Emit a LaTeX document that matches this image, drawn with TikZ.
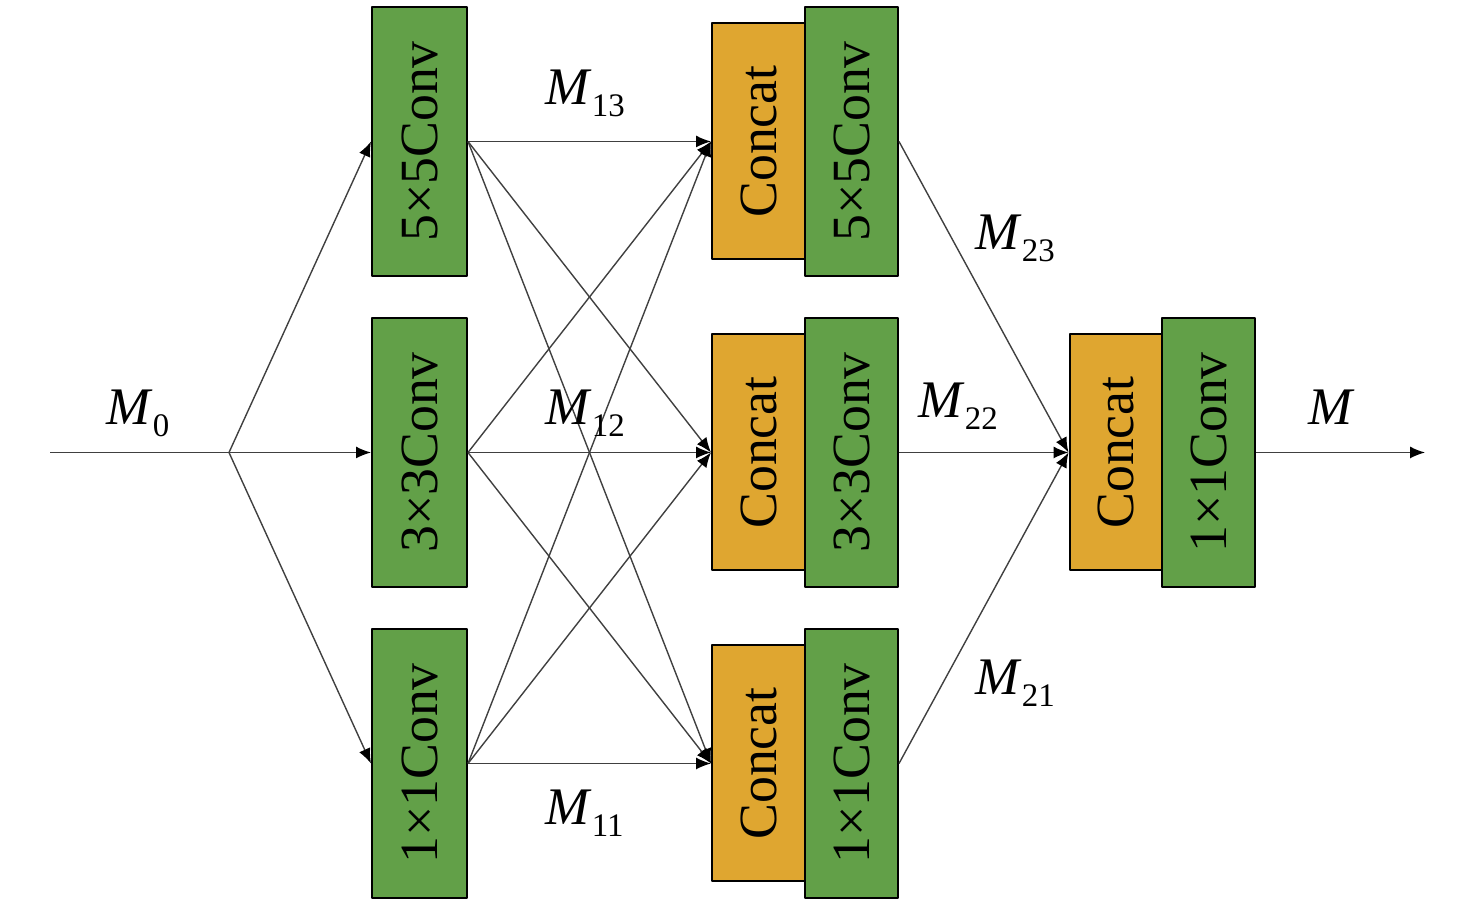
\documentclass[tikz,border=0pt]{standalone}
\usepackage{fontspec}
\setmainfont{Liberation Serif}
\usepackage{graphicx}
\usetikzlibrary{arrows.meta}
\definecolor{convgreen}{RGB}{98,160,72}
\definecolor{catorange}{RGB}{223,166,48}
\newcommand{\msub}[1]{\textit{M}\raisebox{-0.22em}{\fontsize{16.5}{17}\selectfont #1}}
\begin{document}
\begin{tikzpicture}[>={Latex[length=7.5bp,width=6bp,color=black]},line join=bevel,
    conv/.style={draw=black,line width=1bp,fill=convgreen,minimum width=47.5bp,minimum height=134.5bp,inner sep=0pt,font=\fontsize{27}{30}\selectfont},
    cat/.style={draw=black,line width=1bp,fill=catorange,minimum width=46.5bp,minimum height=118bp,inner sep=0pt,font=\fontsize{27}{30}\selectfont},
    link/.style={draw=black!75,line width=0.7bp},
    lbl/.style={anchor=base west,inner sep=0pt,font=\fontsize{26.5}{30}\selectfont}]
        %%
        \useasboundingbox (0bp,0bp) rectangle (738bp,453bp);
        \node (conv5_1) at (209.75bp,382.25bp) [conv] {\rotatebox{90}{5×5Conv}};
        \node (conv3_1) at (209.75bp,226.75bp) [conv] {\rotatebox{90}{3×3Conv}};
        \node (conv1_1) at (209.75bp,71.25bp) [conv] {\rotatebox{90}{1×1Conv}};
        \node (cat_3) at (379.25bp,382.25bp) [cat] {\rotatebox{90}{Concat}};
        \node (cat_2) at (379.25bp,226.75bp) [cat] {\rotatebox{90}{Concat}};
        \node (cat_1) at (379.25bp,71.25bp) [cat] {\rotatebox{90}{Concat}};
        \node (conv5_2) at (425.75bp,382.25bp) [conv,minimum width=46.5bp] {\rotatebox{90}{5×5Conv}};
        \node (conv3_2) at (425.75bp,226.75bp) [conv,minimum width=46.5bp] {\rotatebox{90}{3×3Conv}};
        \node (conv1_2) at (425.75bp,71.25bp) [conv,minimum width=46.5bp] {\rotatebox{90}{1×1Conv}};
        \node (cat_out) at (558bp,226.75bp) [cat] {\rotatebox{90}{Concat}};
        \node (conv_out) at (604.25bp,226.75bp) [conv,minimum width=46.5bp] {\rotatebox{90}{1×1Conv}};
        \coordinate (input) at (25bp,226.75bp);
        \coordinate (split) at (114.5bp,226.75bp);
        \coordinate (output) at (712.5bp,226.75bp);
        %
        \draw [link] (input) -- (split);
        \draw [link,->] (split) -- (conv5_1.west);
        \draw [link,->] (split) -- (conv3_1.west);
        \draw [link,->] (split) -- (conv1_1.west);
        \draw [link,->] (conv5_1.east) -- (cat_3.west);
        \draw [link,->] (conv5_1.east) -- (cat_2.west);
        \draw [link,->] (conv5_1.east) -- (cat_1.west);
        \draw [link,->] (conv3_1.east) -- (cat_3.west);
        \draw [link,->] (conv3_1.east) -- (cat_2.west);
        \draw [link,->] (conv3_1.east) -- (cat_1.west);
        \draw [link,->] (conv1_1.east) -- (cat_3.west);
        \draw [link,->] (conv1_1.east) -- (cat_2.west);
        \draw [link,->] (conv1_1.east) -- (cat_1.west);
        \draw [link,->] (conv5_2.east) -- (cat_out.west);
        \draw [link,->] (conv3_2.east) -- (cat_out.west);
        \draw [link,->] (conv1_2.east) -- (cat_out.west);
        \draw [link,->] (conv_out.east) -- (output);
        %
        \node (lbl_0) at (53bp,240.5bp) [lbl] {\msub{0}};
        \node (lbl_13) at (272.5bp,400.5bp) [lbl] {\msub{13}};
        \node (lbl_12) at (272.5bp,240.5bp) [lbl] {\msub{12}};
        \node (lbl_11) at (272.5bp,40.5bp) [lbl] {\msub{11}};
        \node (lbl_23) at (487.5bp,328bp) [lbl] {\msub{23}};
        \node (lbl_22) at (459bp,244bp) [lbl] {\msub{22}};
        \node (lbl_21) at (487.5bp,105.5bp) [lbl] {\msub{21}};
        \node (lbl_out) at (654bp,240.5bp) [lbl] {\textit{M}};
        %
\end{tikzpicture}
\end{document}
